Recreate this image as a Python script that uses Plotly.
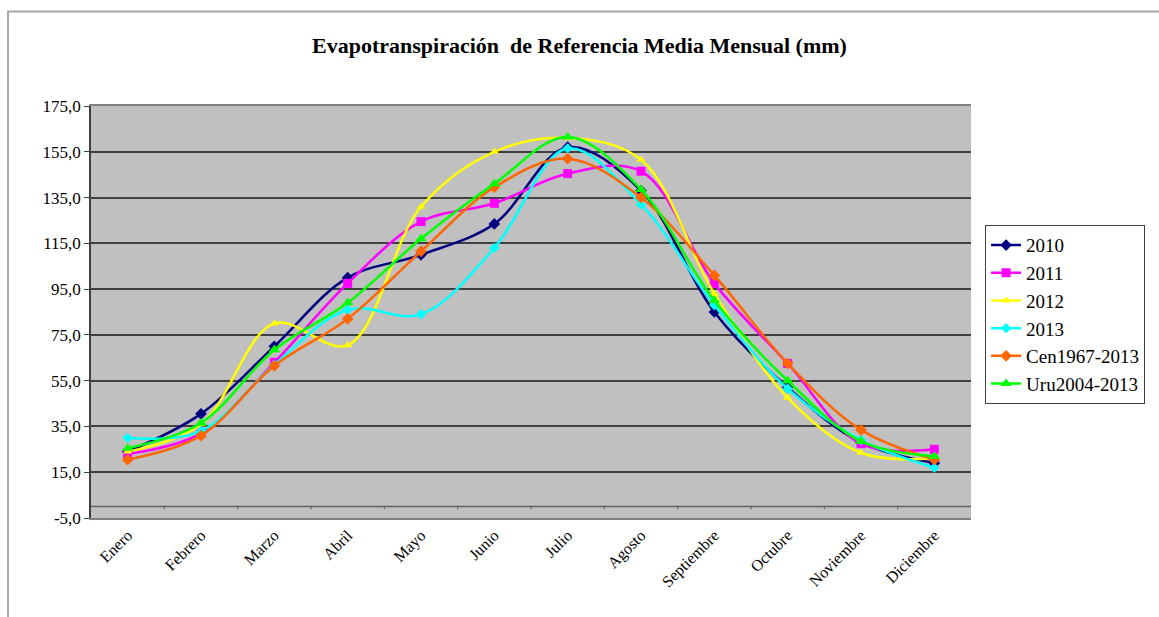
import plotly.graph_objects as go

# Monthly reference evapotranspiration (mm)
meses = ["Enero", "Febrero", "Marzo", "Abril", "Mayo", "Junio", "Julio",
         "Agosto", "Septiembre", "Octubre", "Noviembre", "Diciembre"]
et_2010 = [24.0, 40.5, 70.0, 100.0, 110.0, 123.5, 157.0, 138.0, 85.0, 52.0, 28.0, 19.0]
et_2011 = [23.0, 32.0, 63.0, 97.5, 124.5, 132.5, 145.5, 146.5, 97.5, 62.5, 27.5, 25.0]
et_2012 = [24.0, 36.0, 80.0, 70.5, 131.0, 155.0, 161.0, 151.5, 93.0, 47.5, 23.5, 21.0]
et_2013 = [30.0, 33.0, 62.0, 86.0, 84.0, 113.0, 156.5, 132.0, 88.0, 51.5, 29.0, 17.0]
et_cen = [20.5, 31.0, 61.5, 82.0, 111.5, 139.5, 152.0, 135.0, 101.0, 62.5, 33.5, 20.5]
et_uru = [25.5, 36.5, 68.5, 89.0, 117.0, 141.0, 161.5, 138.5, 90.0, 55.0, 28.5, 22.0]

# value-axis ticks and their labels (decimal comma, plain hyphen for negatives)
y_ticks = [-5, 15, 35, 55, 75, 95, 115, 135, 155, 175]
y_labels = ["-5,0", "15,0", "35,0", "55,0", "75,0", "95,0",
            "115,0", "135,0", "155,0", "175,0"]

series = [
    ("2010", et_2010, "#000080", "diamond", 9),
    ("2011", et_2011, "#FF00FF", "square", 9),
    ("2012", et_2012, "#FFFF00", "triangle-up", 8),
    ("2013", et_2013, "#00FFFF", "diamond", 8),
    ("Cen1967-2013", et_cen, "#FF6600", "diamond", 9),
    ("Uru2004-2013", et_uru, "#00FF00", "triangle-up", 10),
]

SERIF = "Liberation Serif"

fig = go.Figure()
for name, vals, color, sym, size in series:
    fig.add_trace(go.Scatter(
        x=meses, y=vals, name=name, mode="lines+markers",
        legendgroup=name,
        line=dict(color=color, width=2.5, shape="spline", smoothing=1.0),
        marker=dict(color=color, symbol=sym, size=size),
    ))

# category axis crosses the value axis at 0, with ticks between months
fig.add_shape(type="line", xref="paper", yref="y", x0=0, x1=1, y0=0, y1=0,
              line=dict(color="#606060", width=1.5), layer="below")
for i in range(1, len(meses)):
    fig.add_shape(type="line", xref="x", yref="y", x0=i - 0.5, x1=i - 0.5,
                  y0=0, y1=-1.3, line=dict(color="#606060", width=1), layer="below")

# outer chart-area frame
fig.add_shape(type="rect", xref="paper", yref="paper",
              x0=-0.0943, x1=1.25, y0=-0.30, y1=1.2296,
              line=dict(color="#A8A8A8", width=2), fillcolor="rgba(0,0,0,0)")

fig.update_layout(
    width=1159, height=617,
    margin=dict(l=91, r=188, t=106, b=99),
    paper_bgcolor="white",
    plot_bgcolor="#C0C0C0",
    font=dict(family=SERIF, color="black", size=15),
    title=dict(text="<b>Evapotranspiración  de Referencia Media Mensual (mm)</b>",
               xref="container", x=0.5, xanchor="center",
               yref="container", y=0.927, yanchor="middle",
               font=dict(family=SERIF, size=22, color="black")),
    showlegend=True,
    legend=dict(x=1.016, xanchor="left", y=0.7107, yanchor="top",
                bordercolor="#404040", borderwidth=1, bgcolor="white",
                font=dict(family=SERIF, size=19, color="black"),
                tracegroupgap=0, traceorder="grouped",
                itemwidth=30),
    xaxis=dict(type="category", tickangle=-45, showgrid=False, ticks="",
               showline=True, linecolor="#808080", linewidth=1.5, mirror=True,
               tickfont=dict(family=SERIF, size=16), zeroline=False,
               range=[-0.5, 11.5]),
    yaxis=dict(range=[-5, 175], tickmode="array", tickvals=y_ticks, ticktext=y_labels,
               showgrid=True, gridcolor="#404040", gridwidth=1.5,
               ticks="outside", ticklen=5, tickcolor="#404040",
               showline=True, linecolor="#404040", linewidth=1.5, mirror=False,
               zeroline=False, tickfont=dict(family=SERIF, size=17)),
)

fig.write_html("out.html")
